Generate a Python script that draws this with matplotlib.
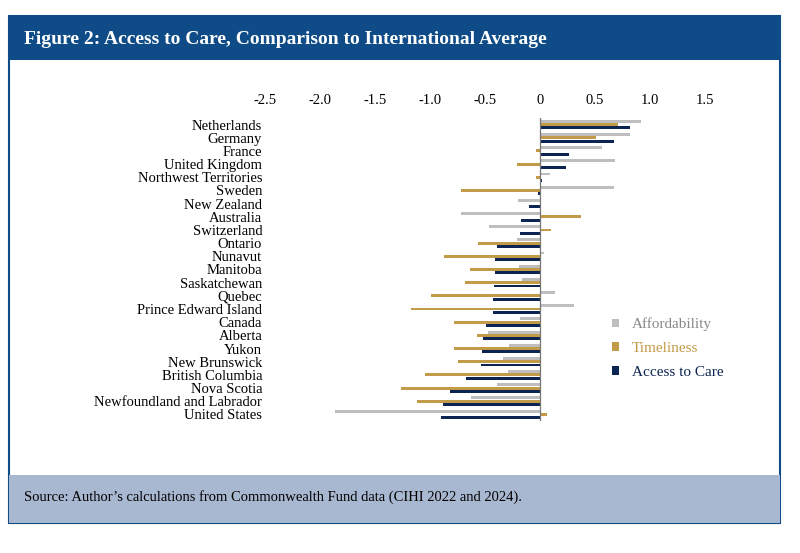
import numpy as np
import matplotlib.pyplot as plt
from matplotlib.patches import Rectangle

regions = ["Netherlands", "Germany", "France", "United Kingdom", "Northwest Territories",
           "Sweden", "New Zealand", "Australia", "Switzerland", "Ontario", "Nunavut",
           "Manitoba", "Saskatchewan", "Quebec", "Prince Edward Island", "Canada",
           "Alberta", "Yukon", "New Brunswick", "British Columbia", "Nova Scotia",
           "Newfoundland and Labrador", "United States"]
affordability = [0.92, 0.82, 0.56, 0.68, 0.09, 0.67, -0.20, -0.72, -0.46, -0.21, 0.04,
                 -0.19, -0.16, 0.14, 0.31, -0.18, -0.47, -0.28, -0.34, -0.29, -0.39, -0.63, -1.86]
timeliness = [0.71, 0.51, -0.04, -0.21, -0.04, -0.72, 0.0, 0.37, 0.10, -0.56, -0.87,
              -0.64, -0.68, -0.99, -1.17, -0.78, -0.57, -0.78, -0.75, -1.05, -1.26, -1.12, 0.06]
access = [0.82, 0.67, 0.26, 0.24, 0.02, -0.02, -0.10, -0.17, -0.18, -0.39, -0.41,
          -0.41, -0.42, -0.43, -0.43, -0.49, -0.52, -0.53, -0.54, -0.67, -0.82, -0.88, -0.90]
xticks = [-2.5, -2.0, -1.5, -1.0, -0.5, 0, 0.5, 1.0, 1.5]
xtick_labels = ["-2.5", "-2.0", "-1.5", "-1.0", "-0.5", "0", "0.5", "1.0", "1.5"]

GRAY, GOLD, NAVY = "#BEBEBE", "#C29B48", "#0C2452"
HEADER, FOOTER = "#0F4C87", "#A9B8D1"

plt.rcParams["font.family"] = ["Liberation Serif", "DejaVu Serif"]

fig = plt.figure(figsize=(8, 5.53), dpi=100)
W, H = 800, 553

def fx(px): return px / W
def fy(py): return 1 - py / H

# frame, header, footer (drawn behind the axes)
fig.patches.append(Rectangle((fx(9), fy(523)), fx(771), (523 - 16) / H, transform=fig.transFigure,
                             facecolor="white", edgecolor=HEADER, lw=1.5, zorder=-2))
fig.patches.append(Rectangle((fx(9), fy(60)), fx(771), 44 / H, transform=fig.transFigure,
                             facecolor=HEADER, edgecolor="none", zorder=-1))
fig.patches.append(Rectangle((fx(9), fy(523)), fx(771), 48 / H, transform=fig.transFigure,
                             facecolor=FOOTER, edgecolor="none", zorder=-1))
fig.text(fx(24), fy(40), "Figure 2: Access to Care, Comparison to International Average",
         color="white", fontsize=14, fontweight="semibold", va="center")
fig.text(fx(24), fy(497), "Source: Author\u2019s calculations from Commonwealth Fund data (CIHI 2022 and 2024).",
         color="black", fontsize=10.5, va="center")

ax = fig.add_axes([fx(265), fy(421), fx(705 - 265), (421 - 118) / H], zorder=5)
ax.patch.set_alpha(0)
y = np.arange(len(regions))
h = 0.22
ax.barh(y - 0.25, affordability, height=h, color=GRAY, label="Affordability")
ax.barh(y, timeliness, height=h, color=GOLD, label="Timeliness")
ax.barh(y + 0.25, access, height=h, color=NAVY, label="Access to Care")
ax.axvline(0, color="#777777", lw=0.9)

ax.set_xlim(-2.5, 1.5)
ax.set_ylim(len(regions) - 0.5, -0.5)
ax.set_xticks(xticks)
ax.set_xticklabels(xtick_labels, fontsize=10.5)
ax.xaxis.tick_top()
ax.set_yticks(y)
ax.set_yticklabels(regions, fontsize=10.5)
ax.tick_params(length=0, pad=2)
ax.tick_params(axis="x", pad=8)
for s in ax.spines.values():
    s.set_visible(False)

leg = ax.legend(loc="center left", bbox_to_anchor=((598 - 265) / 440, 0.24),
                frameon=False, fontsize=11, handlelength=0.5, handleheight=0.5,
                handletextpad=0.8, labelspacing=0.7)
for t, c in zip(leg.get_texts(), ["#888888", GOLD, NAVY]):
    t.set_color(c)

fig.savefig("out.png", dpi=100)
